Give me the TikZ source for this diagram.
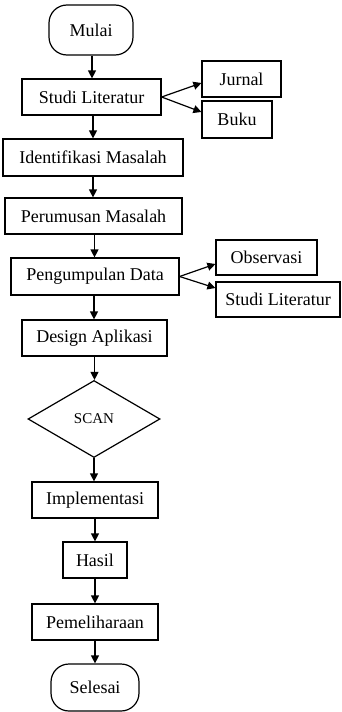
\documentclass[tikz,border=0pt]{standalone}
\usepackage{fontspec}
\setmainfont{Liberation Serif}
\usetikzlibrary{shapes.geometric,arrows.meta}
\begin{document}
\begin{tikzpicture}[x=1pt,y=-1pt,
  box/.style={draw,line width=1.2pt,inner sep=0pt,font=\fontsize{18}{20}\selectfont},
  term/.style={box,rounded corners=18pt},
  dec/.style={draw,line width=1.2pt,diamond,inner sep=0pt,font=\fontsize{15}{17}\selectfont},
  arr/.style={-{Triangle[length=8pt,width=8pt]},line width=1.2pt}]
\useasboundingbox (0,0) rectangle (341,712);
\node[term,minimum width=84pt,minimum height=50pt] (mulai) at (91,30) {Mulai};
\node[box,minimum width=139pt,minimum height=36pt] (sl) at (91.5,97) {Studi Literatur};
\node[box,minimum width=79pt,minimum height=36pt] (jurnal) at (241.5,79) {Jurnal};
\node[box,minimum width=70pt,minimum height=37pt] (buku) at (237,119.5) {Buku};
\node[box,minimum width=180pt,minimum height=37pt] (idm) at (93,157.5) {Identifikasi Masalah};
\node[box,minimum width=177pt,minimum height=36pt] (pm) at (93.5,216) {Perumusan Masalah};
\node[box,minimum width=168pt,minimum height=37pt] (pd) at (95,276.5) {Pengumpulan Data};
\node[box,minimum width=101pt,minimum height=35pt] (obs) at (266.5,257.5) {Observasi};
\node[box,minimum width=124pt,minimum height=35pt] (sl2) at (278,299.5) {Studi Literatur};
\node[box,minimum width=145pt,minimum height=36pt] (da) at (94.5,338) {Design Aplikasi};
\node[dec,minimum width=132pt,minimum height=77pt] (scan) at (94,419) {SCAN};
\node[box,minimum width=126pt,minimum height=36pt] (imp) at (95,500) {Implementasi};
\node[box,minimum width=64pt,minimum height=36pt] (hasil) at (95,560) {Hasil};
\node[box,minimum width=126pt,minimum height=36pt] (pel) at (95,622) {Pemeliharaan};
\node[term,minimum width=88pt,minimum height=47pt] (sel) at (95,687.5) {Selesai};
\draw[arr] ([xshift=1pt]mulai.south) -- ([xshift=1pt]mulai.south |- sl.north);
\draw[arr] ([xshift=1.5pt]sl.south) -- ([xshift=1.5pt]sl.south |- idm.north);
\draw[arr] (idm.south) -- (idm.south |- pm.north);
\draw[arr] ([xshift=1pt]pm.south) -- ([xshift=1pt]pm.south |- pd.north);
\draw[arr] ([xshift=-1pt]pd.south) -- ([xshift=-1pt]pd.south |- da.north);
\draw[arr] (da.south) -- (da.south |- scan.north);
\draw[arr] (scan.south) -- (scan.south |- imp.north);
\draw[arr] (imp.south) -- (imp.south |- hasil.north);
\draw[arr] (hasil.south) -- (hasil.south |- pel.north);
\draw[arr] (pel.south) -- (pel.south |- sel.north);
\draw[arr] (sl.east) -- ([yshift=-4pt]jurnal.west);
\draw[arr] (sl.east) -- ([yshift=7.5pt]buku.west);
\draw[arr] (pd.east) -- ([yshift=-6.5pt]obs.west);
\draw[arr] (pd.east) -- ([yshift=11.5pt]sl2.west);
\end{tikzpicture}
\end{document}
